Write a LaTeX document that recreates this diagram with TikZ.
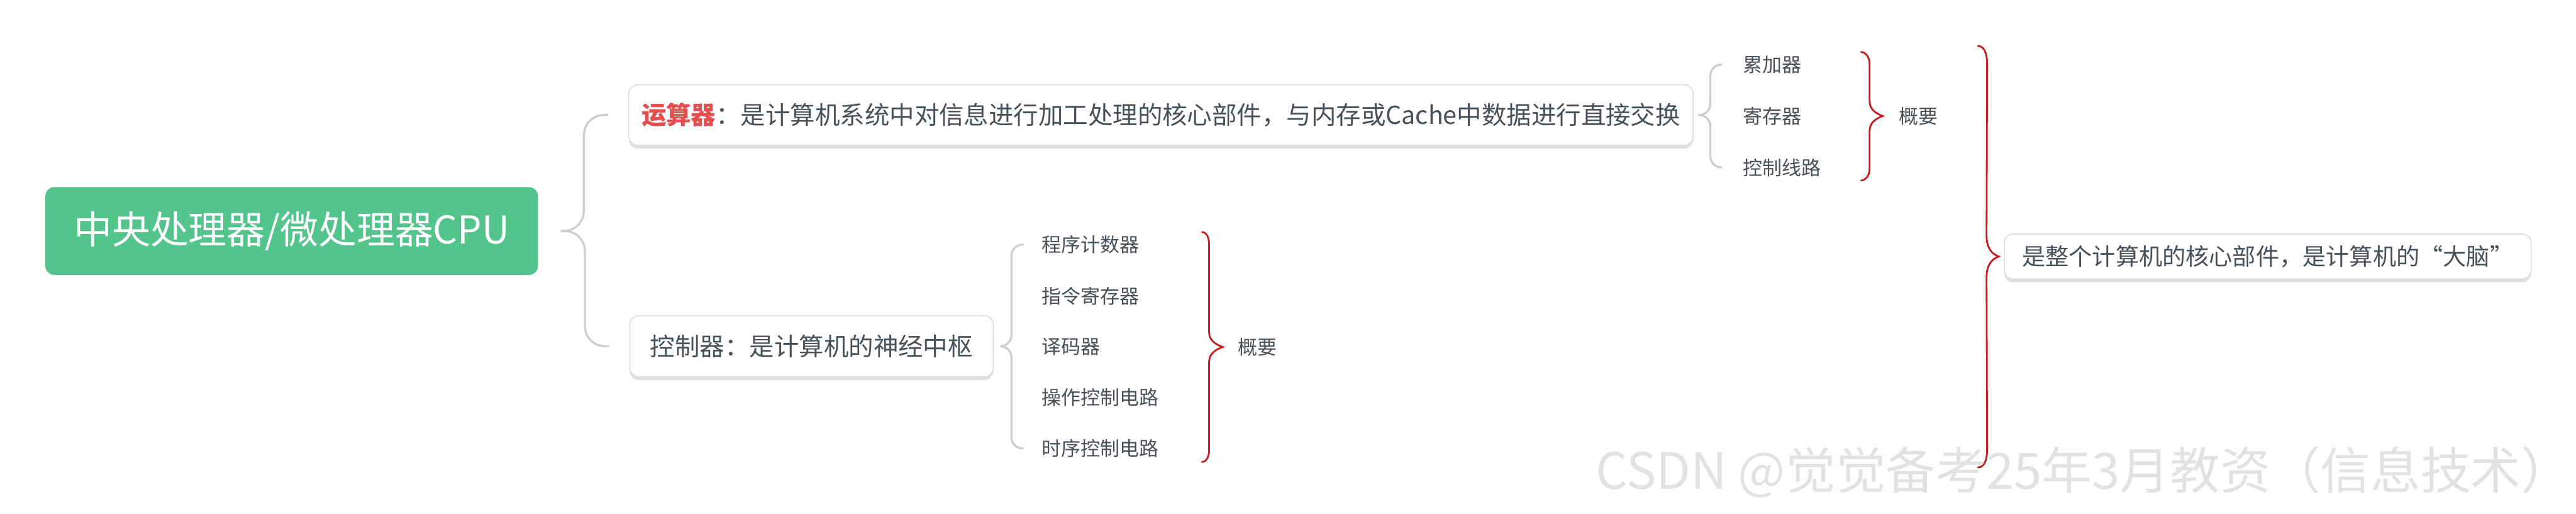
\documentclass[tikz,border=0pt]{standalone}
\usepackage{fontspec}
\setmainfont{Noto Sans CJK SC}
\usetikzlibrary{positioning,shadows,calc}

\definecolor{topicgreen}{RGB}{82,196,140}
\definecolor{textgrey}{RGB}{74,80,88}
\definecolor{linegrey}{RGB}{206,206,206}
\definecolor{alured}{RGB}{230,78,78}
\definecolor{bracered}{RGB}{198,28,32}
\definecolor{boxline}{RGB}{222,222,222}
\definecolor{markgrey}{RGB}{226,226,226}

\begin{document}
\begin{tikzpicture}[
    topic/.style={rectangle, rounded corners=5pt, fill=topicgreen, text=white, minimum width=9.77cm, minimum height=1.74cm, font=\fontsize{21.6}{26}\selectfont},
    branch/.style={rectangle, rounded corners=5pt, draw=boxline, line width=0.6pt, fill=white, text=textgrey, minimum height=1.2cm, font=\fontsize{14}{17}\selectfont, drop shadow={shadow xshift=0pt, shadow yshift=-0.65mm, fill=black!12, opacity=1}},
    leaf/.style={anchor=west, inner sep=0pt, text=textgrey, font=\fontsize{11}{13}\selectfont},
    link/.style={draw=linegrey, line width=1.2pt},
    bracket/.style={draw=bracered, line width=1pt},
    watermark/.style={anchor=west, inner sep=0pt, text=markgrey, font=\fontsize{28.3}{34}\selectfont}
]

\useasboundingbox (0,0) rectangle (51.09,-10.18);

% Central topic
\node[topic] (root) at (5.785,-4.58) {中央处理器/微处理器CPU};

% Main branches
\node[branch, minimum width=21.11cm] (alu) at (23.025,-2.28) {{\color{alured}\bfseries 运算器}：是计算机系统中对信息进行加工处理的核心部件，与内存或Cache中数据进行直接交换};
\node[branch, minimum width=7.21cm, minimum height=1.21cm] (ctrl) at (16.095,-6.865) {控制器：是计算机的神经中枢};

% Parts of the arithmetic unit
\node[leaf] (acc) at (34.56,-1.28) {累加器};
\node[leaf] (reg) at (34.56,-2.30) {寄存器};
\node[leaf] (wire) at (34.56,-3.32) {控制线路};

% Parts of the control unit
\node[leaf] (pc) at (20.66,-4.85) {程序计数器};
\node[leaf] (ir) at (20.66,-5.87) {指令寄存器};
\node[leaf] (dec) at (20.66,-6.88) {译码器};
\node[leaf] (opc) at (20.66,-7.88) {操作控制电路};
\node[leaf] (tmc) at (20.66,-8.89) {时序控制电路};

% Summary labels
\node[leaf] (sum1) at (37.66,-2.30) {概要};
\node[leaf] (sum2) at (24.54,-6.88) {概要};
\node[branch, minimum width=10.45cm, minimum height=0.89cm, font=\fontsize{13.2}{16}\selectfont] (brain) at (44.975,-5.085) {是整个计算机的核心部件，是计算机的“大脑”};

% Grey braces - topic to branches
\draw[link, rounded corners=4mm] ([xshift=4.4mm]root.east) -| ([xshift=-8.8mm]alu.west) -- ([xshift=-4mm]alu.west);
\draw[link, rounded corners=4mm] ([xshift=4.4mm]root.east) -| ([xshift=-8.8mm]ctrl.west) -- ([xshift=-4mm]ctrl.west);

% Grey braces - branches to parts
\draw[link, rounded corners=2.2mm] ([xshift=0.9mm]alu.east) -| ([xshift=-6.4mm]acc.west) -- ([xshift=-4.1mm]acc.west);
\draw[link, rounded corners=2.2mm] ([xshift=0.9mm]alu.east) -| ([xshift=-6.4mm]wire.west) -- ([xshift=-4.1mm]wire.west);
\draw[link, rounded corners=2.2mm] ([xshift=1.3mm]ctrl.east) -| ([xshift=-6mm]pc.west) -- ([xshift=-3.6mm]pc.west);
\draw[link, rounded corners=2.2mm] ([xshift=1.3mm]ctrl.east) -| ([xshift=-6mm]tmc.west) -- ([xshift=-3.6mm]tmc.west);

% Red summary braces
\coordinate (s1top) at (36.90,-1.03);
\coordinate (s1bot) at (36.90,-3.58);
\coordinate (s1tip) at ([xshift=-3.2mm]sum1.west);
\draw[bracket] (s1top) to[out=0,in=90] ($(s1top)+(0.18,-0.24)$) -- ($(s1tip)+(-0.26,0.29)$) to[out=-90,in=160] (s1tip)
    to[out=-160,in=90] ($(s1tip)+(-0.26,-0.29)$) -- ($(s1bot)+(0.18,0.24)$) to[out=-90,in=0] (s1bot);

\coordinate (s2top) at (23.83,-4.60);
\coordinate (s2bot) at (23.83,-9.16);
\coordinate (s2tip) at ([xshift=-2.9mm]sum2.west);
\draw[bracket] (s2top) to[out=0,in=90] ($(s2top)+(0.15,-0.24)$) -- ($(s2tip)+(-0.27,0.29)$) to[out=-90,in=160] (s2tip)
    to[out=-160,in=90] ($(s2tip)+(-0.27,-0.29)$) -- ($(s2bot)+(0.15,0.24)$) to[out=-90,in=0] (s2bot);

\coordinate (s3top) at (39.22,-0.91);
\coordinate (s3bot) at (39.22,-9.27);
\coordinate (s3tip) at ([xshift=-1mm]brain.west);
\draw[bracket] (s3top) to[out=0,in=90] ($(s3top)+(0.19,-0.36)$) -- ($(s3tip)+(-0.24,0.40)$) to[out=-90,in=160] (s3tip)
    to[out=-160,in=90] ($(s3tip)+(-0.24,-0.40)$) -- ($(s3bot)+(0.19,0.36)$) to[out=-90,in=0] (s3bot);

% Watermark
\node[watermark] (mark) at (31.64,-9.36) {CSDN @觉觉备考25年3月教资（信息技术）};

\end{tikzpicture}
\end{document}
